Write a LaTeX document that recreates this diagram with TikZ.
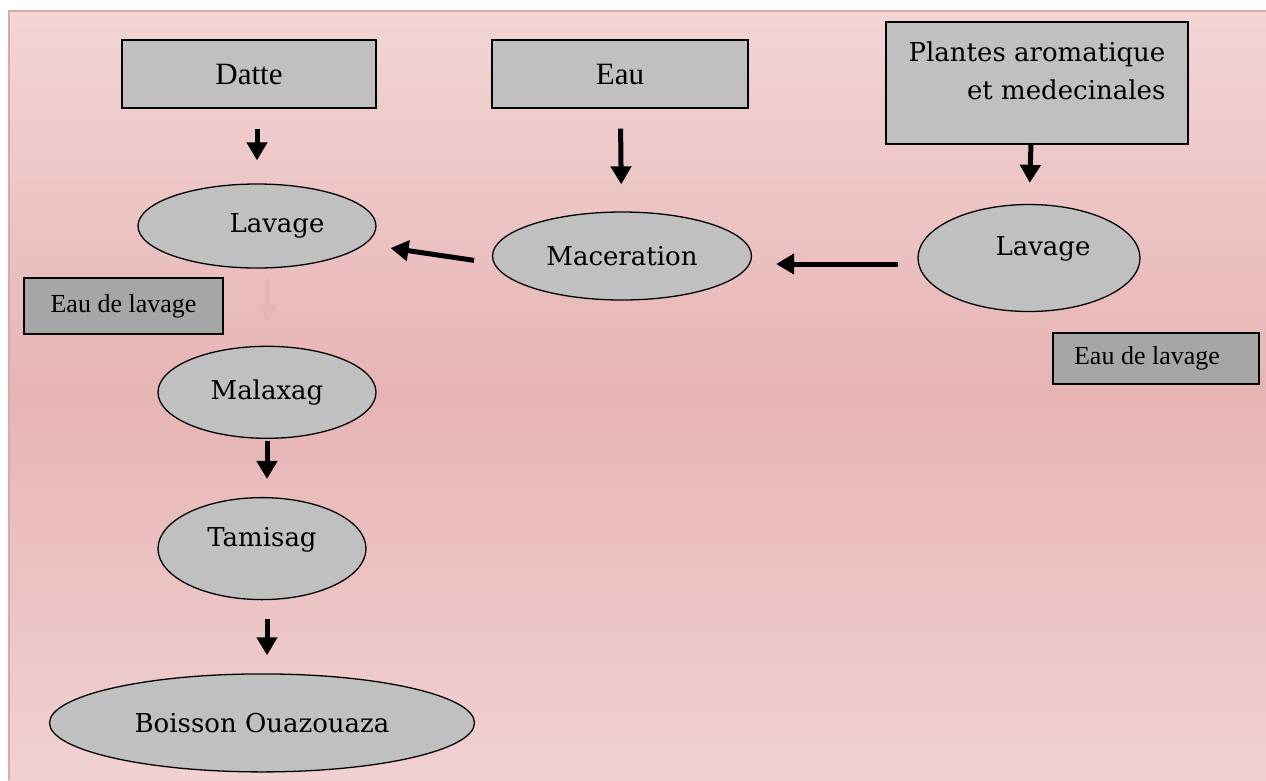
\documentclass[tikz,border=0pt]{standalone}
\usepackage{fontspec}
\setmainfont{Liberation Serif}
\newfontfamily\slabfont{DejaVu Serif}
\usetikzlibrary{arrows.meta,positioning,shapes.geometric}

\definecolor{bgtop}{RGB}{243,213,213}
\definecolor{bgmid}{RGB}{231,180,180}
\definecolor{bgbot}{RGB}{241,209,210}
\definecolor{frameline}{RGB}{224,166,166}
\definecolor{boxgray}{RGB}{192,192,192}
\definecolor{washgray}{RGB}{166,166,166}
\definecolor{ghost}{RGB}{229,181,181}

\begin{document}
\begin{tikzpicture}[
    x=1pt, y=-1pt,
    inbox/.style={draw, line width=1.3pt, fill=boxgray, font=\fontsize{31}{37}\selectfont,
                  minimum width=254pt, minimum height=68pt, inner sep=0pt},
    wash/.style={draw, line width=1.3pt, fill=washgray, font=\fontsize{26}{30}\selectfont,
                 inner sep=0pt},
    proc/.style={ellipse, draw, line width=1.3pt, fill=boxgray,
                 font=\slabfont\fontsize{26}{30}\selectfont, inner sep=0pt},
    arr/.style={-{Triangle[length=18pt,width=20pt]}, line width=5pt}
  ]
  % page and pink frame
  \useasboundingbox (0,0) rectangle (1266,780);
  \shade[top color=bgtop, bottom color=bgmid] (8,10) rectangle (1266,395);
  \shade[top color=bgmid, bottom color=bgbot] (8,394) rectangle (1266,780);
  \draw[frameline, line width=2.5pt] (9,780) -- (9,11) -- (1266,11);

  % inputs
  \node[inbox] (datte) at (249,74) {Datte};
  \node[inbox, minimum width=256pt] (eau) at (620,74) {Eau};
  \node[inbox, font=\slabfont\fontsize{26}{38}\selectfont, align=right,
        minimum width=302pt, minimum height=122pt] (plantes) at (1037,83)
        {Plantes aromatique\\et medecinales\\[-14pt]\mbox{}};

  % steps
  \node[proc, minimum width=238pt, minimum height=84pt] (lavA) at (257,226) {\hspace*{40pt}Lavage};
  \node[proc, minimum width=259pt, minimum height=88pt] (macer) at (622,256) {Maceration};
  \node[proc, minimum width=222pt, minimum height=107pt, text depth=24pt] (lavB) at (1029,258) {\hspace*{28pt}Lavage};
  \node[proc, minimum width=218pt, minimum height=92pt, below=77pt of lavA, xshift=10pt] (malax) {Malaxag};
  \node[proc, minimum width=208pt, minimum height=102pt, text depth=24pt, below=58pt of malax, xshift=-5pt] (tamis) {Tamisag};
  \node[proc, minimum width=425pt, minimum height=98pt, below=73pt of tamis] (boisson) {Boisson Ouazouaza};

  % rinse water
  \node[wash, minimum width=199pt, minimum height=56pt] (washA) at (123.5,306) {Eau de lavage};
  \node[wash, minimum width=206pt, minimum height=51pt] (washB) at (1156,358.5) {Eau de lavage\hspace*{18pt}};

  \draw[arr, shorten <=20pt, shorten >=23pt] (datte.south -| lavA.north) -- (lavA.north);
  \draw[arr, shorten <=20pt, shorten >=27pt] (eau) -- (macer);
  \draw[arr, shorten >=21pt] ([xshift=-6pt]plantes.south) -- (lavB.north);
  \draw[arr, shorten <=19pt, shorten >=24pt] ([yshift=-6pt]lavB.west) -- ([yshift=-6pt]lavB.west -| macer.east);
  \draw[arr, shorten <=18pt, shorten >=14pt] ([yshift=-7pt]macer.west) -- ([yshift=-20pt]lavA.east);
  \draw[arr, ghost, shorten <=10pt, shorten >=23pt] (lavA.south -| malax.north) -- (malax.north);
  \draw[arr, shorten <=2pt, shorten >=18pt] (malax.south) -- (malax.south |- tamis.north);
  \draw[arr, shorten <=19pt, shorten >=18pt] (malax.south |- tamis.south) -- (malax.south |- boisson.north);
\end{tikzpicture}
\end{document}
